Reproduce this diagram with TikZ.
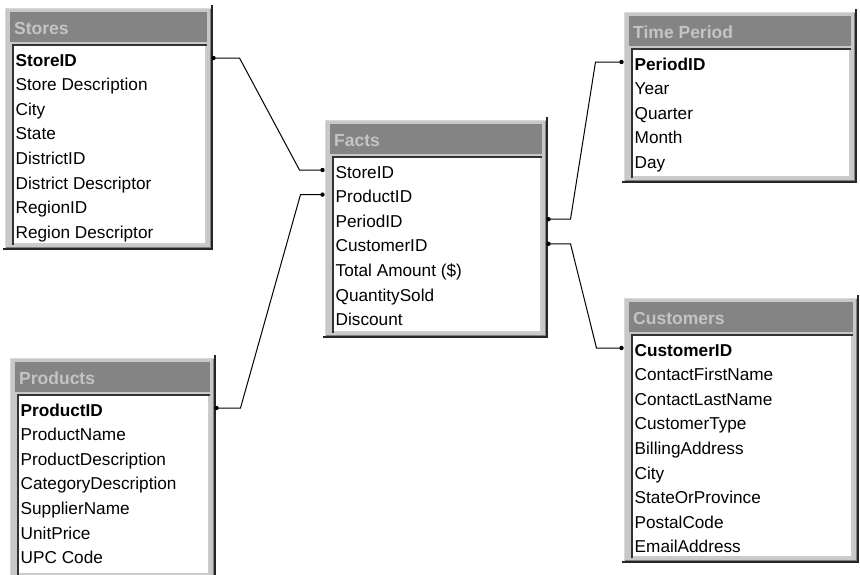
\documentclass[tikz,border=0pt]{standalone}
\usepackage{fontspec}
\setmainfont{Liberation Sans}
\usetikzlibrary{calc}
\definecolor{face}{HTML}{C8C8C8}
\definecolor{titlebg}{HTML}{848484}
\definecolor{titlefg}{HTML}{C4C4C4}
\tikzset{
  rowtext/.style={anchor=base west, inner sep=0pt, font=\fontsize{17.2}{20}\selectfont},
  titletext/.style={anchor=base west, inner sep=0pt, text=titlefg, font=\fontsize{17.5}{20}\selectfont\bfseries},
  conn/.style={draw=black, line width=1pt},
  enddot/.style={fill=black, circle, inner sep=0pt, minimum size=4.4pt}
}
\newcommand\dbtable[8]{%
  \fill[face] (#2,#3) rectangle (#4,#5);
  \draw[line width=1pt, draw=white!85!black] (#2+0.5,#5) -- (#2+0.5,#3+0.5) -- (#4,#3+0.5);
  \draw[line width=1pt, draw=gray] (#2+1,#5-2.5) -- (#4-2.5,#5-2.5) -- (#4-2.5,#3+1);
  \draw[line width=2pt, draw=black!85] (#2-2,#5-1) -- (#4-1,#5-1) -- (#4-1,#3-3);
  \fill[titlebg] (#2+5,#3+4) rectangle (#4-6,#3+34);
  \node[titletext] (#1-title) at (#2+9,#3+26) {#6};
  \fill[white] (#2+7,#3+36) rectangle (#4-6,#5-5);
  \draw[line width=2pt, draw=white!80!black] (#2+8,#5-6) -- (#4-7,#5-6) -- (#4-7,#3+37);
  \draw[line width=2pt, draw=black!80] (#2+8,#5-5) -- (#2+8,#3+37) -- (#4-6,#3+37);
  \foreach \t [count=\i] in {#7} {
    \pgfmathsetmacro\by{#3+58+(\i-1)*24.6}
    \node[rowtext] (#1-\i) at (#2+10.5,\by) {\ifnum\i=#8 \bfseries\fi\t};
    \coordinate (#1-\i-w) at (#2-2.5,\by-8);
    \coordinate (#1-\i-e) at (#4+0.5,\by-8);
  }
}
\begin{document}
\begin{tikzpicture}[x=1pt,y=-1pt]
\useasboundingbox[fill=white] (0,0) rectangle (860,574);
\dbtable{stores}{5}{8}{213}{250}{Stores}{StoreID,Store Description,City,State,DistrictID,District Descriptor,RegionID,Region Descriptor}{1}
\dbtable{facts}{325}{120}{548}{338}{Facts}{StoreID,ProductID,PeriodID,CustomerID,{Total Amount (\$)},QuantitySold,Discount}{0}
\dbtable{time}{624}{12}{857}{183}{Time Period}{PeriodID,Year,Quarter,Month,Day}{1}
\dbtable{cust}{624}{298}{859}{563}{Customers}{CustomerID,ContactFirstName,ContactLastName,CustomerType,BillingAddress,City,StateOrProvince,PostalCode,EmailAddress}{1}
\dbtable{prod}{10}{358}{216}{580}{Products}{ProductID,ProductName,ProductDescription,CategoryDescription,SupplierName,UnitPrice,UPC Code}{1}
\draw[conn] (stores-1-e) -- ++(26,0) -- ($(facts-1-w)+(-23,0)$) -- (facts-1-w);
\draw[conn] (prod-1-e) -- ++(24,0) -- ($(facts-2-w)+(-22,0)$) -- (facts-2-w);
\draw[conn] (facts-3-e) -- ++(22,0) -- ($(time-1-w)+(-26,0)$) -- (time-1-w);
\draw[conn] (facts-4-e) -- ++(22,0) -- ($(cust-1-w)+(-25,0)$) -- (cust-1-w);
\node[enddot] (d1) at (stores-1-e) {};
\node[enddot] (d2) at (facts-1-w) {};
\node[enddot] (d3) at (prod-1-e) {};
\node[enddot] (d4) at (facts-2-w) {};
\node[enddot] (d5) at (facts-3-e) {};
\node[enddot] (d6) at (time-1-w) {};
\node[enddot] (d7) at (facts-4-e) {};
\node[enddot] (d8) at (cust-1-w) {};
\end{tikzpicture}
\end{document}
